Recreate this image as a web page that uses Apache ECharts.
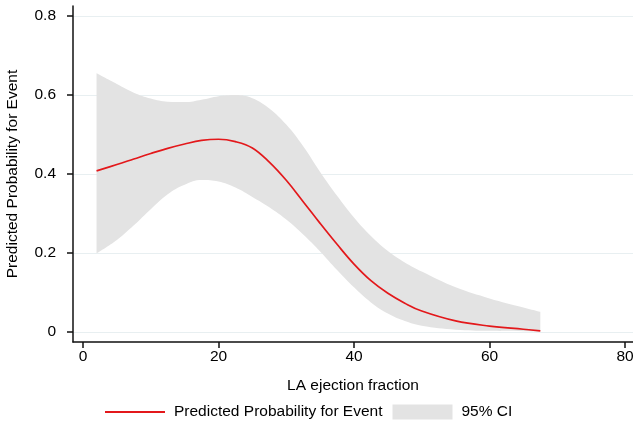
<!DOCTYPE html>
<html>
<head>
<meta charset="utf-8">
<script src="https://cdn.jsdelivr.net/npm/echarts@6/dist/echarts.min.js"></script>
<style>
  html, body { margin: 0; padding: 0; background: #fff; }
  #chart { width: 633px; height: 442px; }
</style>
</head>
<body>
<div id="chart"></div>
<script>
// LA ejection fraction values the curve was read at
var efValues = [2, 5, 7.5, 10, 12.5, 15, 17.5, 20, 22.5, 25, 27.5, 30, 32.5, 35, 37.5, 40, 42.5, 45, 47.5, 50, 55, 60, 65, 67.5];
var predicted = [0.408, 0.424, 0.438, 0.452, 0.465, 0.476, 0.485, 0.488, 0.482, 0.466, 0.430, 0.384, 0.330, 0.275, 0.222, 0.172, 0.130, 0.098, 0.073, 0.053, 0.028, 0.015, 0.007, 0.003];
var ciUpper = [0.655, 0.628, 0.606, 0.591, 0.583, 0.582, 0.588, 0.597, 0.600, 0.592, 0.566, 0.525, 0.470, 0.405, 0.345, 0.290, 0.243, 0.205, 0.176, 0.153, 0.113, 0.085, 0.062, 0.051];
var ciLower = [0.199, 0.233, 0.270, 0.311, 0.349, 0.373, 0.385, 0.381, 0.366, 0.342, 0.316, 0.285, 0.247, 0.204, 0.157, 0.113, 0.075, 0.047, 0.028, 0.016, 0.006, 0.003, 0.002, 0.001];
var xTicks = [0, 20, 40, 60, 80];
var yTicks = [0, 0.2, 0.4, 0.6, 0.8];

// y first so the stack adds on y (stacking goes on the first value dim)
var lowerData = efValues.map(function (x, i) { return [ciLower[i], x]; });
var bandData = efValues.map(function (x, i) { return [ciUpper[i] - ciLower[i], x]; });
var lineData = efValues.map(function (x, i) { return [x, predicted[i]]; });

var font = 'Liberation Sans, Arial, Helvetica, sans-serif';
var fs = 15.5;

var option = {
  animation: false,
  grid: { left: 73, right: 0, top: 6, bottom: 100, containLabel: false, outerBoundsMode: 'none' },
  legend: {
    bottom: 17,
    left: 99,
    itemWidth: 60,
    itemHeight: 15,
    itemGap: 10,
    textStyle: { fontFamily: font, fontSize: fs, color: '#000', padding: [0, 0, 0, 4] },
    data: [
      { name: 'Predicted Probability for Event', itemStyle: { opacity: 0 } },
      { name: '95% CI', icon: 'rect', itemStyle: { color: '#e3e3e3' } }
    ]
  },
  xAxis: {
    type: 'value',
    min: -1.476,
    max: 81.18,
    name: 'LA ejection fraction',
    nameLocation: 'middle',
    nameGap: 36,
    nameTextStyle: { fontFamily: font, fontSize: fs, color: '#000' },
    axisLine: { show: true, onZero: false, lineStyle: { color: '#111', width: 1.5 } },
    axisTick: { show: true, length: 6, customValues: xTicks, lineStyle: { color: '#111', width: 1.5 } },
    axisLabel: { customValues: xTicks, margin: 7, fontFamily: font, fontSize: fs, color: '#000' },
    splitLine: { show: false }
  },
  yAxis: {
    type: 'value',
    min: -0.0253,
    max: 0.8253,
    name: 'Predicted Probability for Event',
    nameLocation: 'middle',
    nameGap: 52,
    nameTextStyle: { fontFamily: font, fontSize: fs, color: '#000' },
    axisLine: { show: true, onZero: false, lineStyle: { color: '#111', width: 1.5 } },
    axisTick: { show: true, length: 6, customValues: yTicks, lineStyle: { color: '#111', width: 1.5 } },
    axisLabel: {
      customValues: yTicks, margin: 17, fontFamily: font, fontSize: fs, color: '#000',
      formatter: function (v) { return v === 0 ? '0' : v.toFixed(1); }
    },
    splitLine: { show: true, lineStyle: { color: '#e8eff1', width: 1 } }
  },
  series: [
    {
      name: 'lower',
      type: 'line',
      stack: 'ci',
      smooth: 0.4,
      symbol: 'none',
      encode: { x: 1, y: 0 },
      lineStyle: { opacity: 0 },
      data: lowerData,
      silent: true
    },
    {
      name: '95% CI',
      type: 'line',
      stack: 'ci',
      smooth: 0.4,
      symbol: 'none',
      encode: { x: 1, y: 0 },
      lineStyle: { opacity: 0 },
      itemStyle: { color: '#e3e3e3' },
      areaStyle: { color: '#e3e3e3', opacity: 1 },
      data: bandData
    },
    {
      name: 'Predicted Probability for Event',
      type: 'line',
      smooth: 0.4,
      symbol: 'none',
      itemStyle: { color: '#e3181b' },
      lineStyle: { color: '#e3181b', width: 1.7 },
      data: lineData,
      z: 5
    }
  ]
};

var chart = echarts.init(document.getElementById('chart'));
chart.setOption(option);
</script>
</body>
</html>
